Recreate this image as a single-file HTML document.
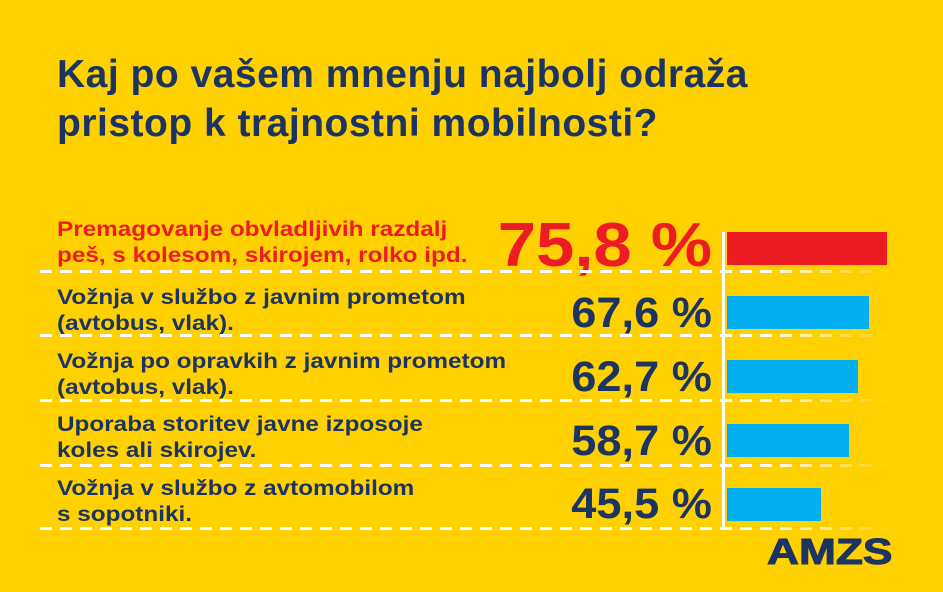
<!DOCTYPE html>
<html><head><meta charset="utf-8"><style>
body{margin:0;width:943px;height:592px;background:#FFD100;overflow:hidden;position:relative;font-family:"Liberation Sans",sans-serif;font-weight:bold;color:#1c3461}
.t{position:absolute;left:57px;font-size:39px;line-height:49px;letter-spacing:0.5px}
.l{position:absolute;left:57px;font-size:21.5px;line-height:26px;transform:scaleX(1.13);transform-origin:left;white-space:nowrap}
.n{position:absolute;right:231px;font-size:43px;letter-spacing:0;transform:scaleX(1.05);transform-origin:right}
.d{position:absolute;left:40px;width:850px;height:3px;background:repeating-linear-gradient(90deg,#fff 0 12px,transparent 12px 20px);-webkit-mask:linear-gradient(90deg,#000 85%,transparent);}
.b{position:absolute;left:727px;height:33px;background:#00AEEF}
</style></head><body>
<div class="t" style="top:50px">Kaj po vašem mnenju najbolj odraža<br>pristop k trajnostni mobilnosti?</div>
<div class="l" style="top:216px;color:#ED1C24">Premagovanje obvladljivih razdalj<br>peš, s kolesom, skirojem, rolko ipd.</div>
<div class="l" style="top:284px">Vožnja v službo z javnim prometom<br>(avtobus, vlak).</div>
<div class="l" style="top:348px">Vožnja po opravkih z javnim prometom<br>(avtobus, vlak).</div>
<div class="l" style="top:411px">Uporaba storitev javne izposoje<br>koles ali skirojev.</div>
<div class="l" style="top:475px">Vožnja v službo z avtomobilom<br>s sopotniki.</div>
<div class="n" style="top:210px;font-size:62px;color:#ED1C24;transform:scaleX(1.11)">75,8 %</div>
<div class="n" style="top:289px">67,6 %</div>
<div class="n" style="top:353px">62,7 %</div>
<div class="n" style="top:417px">58,7 %</div>
<div class="n" style="top:480px">45,5 %</div>
<div class="d" style="top:270px"></div>
<div class="d" style="top:334px"></div>
<div class="d" style="top:399px"></div>
<div class="d" style="top:464px"></div>
<div class="d" style="top:527px"></div>
<div style="position:absolute;left:722px;top:232px;width:3px;height:298px;background:#fff"></div>
<div class="b" style="top:232px;width:160px;background:#ED1C24"></div>
<div class="b" style="top:296px;width:142px"></div>
<div class="b" style="top:360px;width:131px"></div>
<div class="b" style="top:424px;width:122px"></div>
<div class="b" style="top:488px;width:94px"></div>
<div style="position:absolute;left:767px;top:531px;font-size:36px;font-weight:900;letter-spacing:0;transform:scaleX(1.23);transform-origin:left;-webkit-text-stroke:1px #1c3461">AMZS</div>
</body></html>
